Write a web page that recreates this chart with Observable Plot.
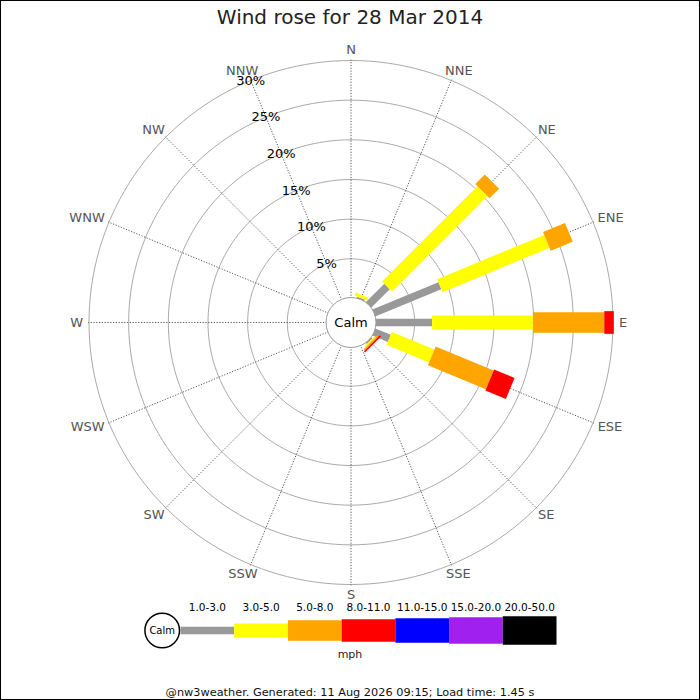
<!DOCTYPE html>
<html>
<head>
<meta charset="utf-8">
<script src="https://cdn.jsdelivr.net/npm/d3@7"></script>
<script src="https://cdn.jsdelivr.net/npm/@observablehq/plot@0.6"></script>
<style>
  body { margin: 0; font-family: "DejaVu Sans", sans-serif; background: white; }
  #wrap { position: relative; width: 700px; height: 700px; overflow: hidden; }
  #frame { position: absolute; inset: 0; border: 1px solid black; box-sizing: border-box; pointer-events: none; }
  #title { height: 34px; line-height: 34px; text-align: center; font-size: 20px; color: #222; }
  #rose { height: 566px; }
  #legend { height: 48px; }
  #unit { height: 14px; line-height: 14px; text-align: center; font-size: 11px; color: #222; }
  #footer { margin-top: 24px; line-height: 14px; text-align: center; font-size: 11.3px; color: #111; }
  svg { display: block; }
</style>
</head>
<body>
<div id="wrap">
  <div id="title">Wind rose for 28 Mar 2014</div>
  <div id="rose"></div>
  <div id="legend"></div>
  <div id="unit">mph</div>
  <div id="footer">@nw3weather. Generated: 11 Aug 2026 09:15; Load time: 1.45 s</div>
  <div id="frame"></div>
</div>
<script>
// compass points, clockwise from N
const directions = ["N", "NNE", "NE", "ENE", "E", "ESE", "SE", "SSE",
    "S", "SSW", "SW", "WSW", "W", "WNW", "NW", "NNW"];
const speedBands = ["1.0-3.0", "3.0-5.0", "5.0-8.0", "8.0-11.0", "11.0-15.0", "15.0-20.0", "20.0-50.0"];
const ringTicks = [5, 10, 15, 20, 25, 30];

// % of time per direction for each speed band
const band1to3 = [0, 0.3, 3.4, 9.1, 7.2, 2.2, 0.3, 0, 0, 0, 0, 0, 0, 0, 0, 0];
const band3to5 = [0, 0.4, 17.0, 14.6, 12.7, 5.8, 0.2, 0, 0, 0, 0, 0, 0, 0, 0, 0];
const band5to8 = [0, 0, 1.7, 3.0, 9.0, 7.9, 0.2, 0, 0, 0, 0, 0, 0, 0, 0, 0];
const band8to11 = [0, 0, 0, 0, 1.2, 2.8, 0.2, 0, 0, 0, 0, 0, 0, 0, 0, 0];
const band11to15 = [0, 0, 0, 0, 0, 0, 0, 0, 0, 0, 0, 0, 0, 0, 0, 0];
const band15to20 = [0, 0, 0, 0, 0, 0, 0, 0, 0, 0, 0, 0, 0, 0, 0, 0];
const band20to50 = [0, 0, 0, 0, 0, 0, 0, 0, 0, 0, 0, 0, 0, 0, 0, 0];
const bandValues = [band1to3, band3to5, band5to8, band8to11, band11to15, band15to20, band20to50];

// styles
const bandColors = ["#999999", "#ffff00", "#ffa500", "#ff0000", "#0000ff", "#a020f0", "#000000"];
const bandWidths = [7.7, 14, 20.3, 22.7, 24.3, 26.7, 28.7];

const pxPerPct = 238 / 30;        // 30% ring sits 262px out, calm circle at 24px
const calm = 24 / pxPerPct;       // calm hole, in % units
const font = "DejaVu Sans";

const angle = (i) => (i * Math.PI) / 8;
const px = (r, i) => r * Math.sin(angle(i));
const py = (r, i) => r * Math.cos(angle(i));

// stacked segments
const segments = [];
directions.forEach((dir, i) => {
    let acc = 0;
    bandValues.forEach((vals, b) => {
        const v = vals[i];
        if (v > 0) segments.push({ dir: i, band: b, start: acc, end: acc + v });
        acc += v;
    });
});

const rings = ringTicks.flatMap((t) =>
    d3.range(0, 361, 2).map((deg) => ({
        t,
        x: (calm + t) * Math.sin((deg * Math.PI) / 180),
        y: (calm + t) * Math.cos((deg * Math.PI) / 180),
    }))
);

// direction labels sit just outside the outer ring, nudged out by half their box
const ctx = document.createElement("canvas").getContext("2d");
ctx.font = `13px "${font}"`;
const dirs = directions.map((name, i) => ({ name, i, w: ctx.measureText(name).width }));
const outer = calm + ringTicks[ringTicks.length - 1];
const labelX = (d) => ((268 + d.w / 2) * Math.sin(angle(d.i))) / pxPerPct;
const labelY = (d) => ((268 + 4.5) * Math.cos(angle(d.i))) / pxPerPct;

const rose = Plot.plot({
    width: 700,
    height: 566,
    margin: 0,
    style: { fontFamily: font, background: "white", overflow: "visible" },
    x: { domain: [-350.5 / pxPerPct, 349.5 / pxPerPct], axis: null },
    y: { domain: [-278 / pxPerPct, 288 / pxPerPct], axis: null },
    marks: [
        Plot.line(rings, { x: "x", y: "y", z: "t", stroke: "#aaa", strokeWidth: 1 }),
        Plot.link(dirs, {
            x1: (d) => px(calm, d.i),
            y1: (d) => py(calm, d.i),
            x2: (d) => px(outer + 0.1, d.i),
            y2: (d) => py(outer + 0.1, d.i),
            stroke: "#444",
            strokeWidth: 0.9,
            strokeDasharray: "1.2,1.6",
        }),
        ...bandColors.map((color, b) =>
            Plot.link(segments.filter((s) => s.band === b), {
                x1: (s) => px(calm + s.start, s.dir),
                y1: (s) => py(calm + s.start, s.dir),
                x2: (s) => px(calm + s.end, s.dir),
                y2: (s) => py(calm + s.end, s.dir),
                stroke: color,
                strokeWidth: bandWidths[b],
                strokeLinecap: "butt",
            })
        ),
        Plot.dot([0], { x: 0, y: 0, r: 25, fill: "white", stroke: "#999", strokeWidth: 1 }),
        Plot.text(["Calm"], { x: 0, y: 0, text: (d) => d, fontSize: 13, fill: "black" }),
        Plot.text(dirs, {
            x: labelX,
            y: labelY,
            text: "name",
            fontSize: 13,
            fill: "#555",
        }),
        Plot.text(ringTicks, {
            x: (t) => px(calm + t, 15),
            y: (t) => py(calm + t, 15),
            text: (t) => `${t}%`,
            fontSize: 13,
            fill: "black",
        }),
    ],
});
document.getElementById("rose").appendChild(rose);

const bands = speedBands.map((label, i) => ({ label, i }));
const legend = Plot.plot({
    width: 700,
    height: 48,
    marginLeft: 180,
    marginRight: 144,
    marginTop: 12,
    marginBottom: 0,
    style: { fontFamily: font, background: "white", overflow: "visible" },
    x: { domain: [0, speedBands.length], axis: null },
    y: { domain: [-1, 1], axis: null },
    marks: [
        ...bands.map((d) =>
            Plot.link([d], {
                x1: "i",
                x2: (d) => d.i + 1,
                y1: 0,
                y2: 0,
                stroke: bandColors[d.i],
                strokeWidth: bandWidths[d.i],
                strokeLinecap: "butt",
            })
        ),
        Plot.dot([0], { x: 0, y: 0, dx: -18.3, r: 17.3, fill: "white", stroke: "black" }),
        Plot.text(["Calm"], { x: 0, y: 0, dx: -18.3, text: (d) => d, fontSize: 10, fill: "black" }),
        Plot.text(bands, {
            x: (d) => d.i + 0.5,
            y: 0,
            dy: -22.5,
            text: "label",
            fontSize: 10.5,
            fill: "black",
        }),
    ],
});
document.getElementById("legend").appendChild(legend);
</script>
</body>
</html>
